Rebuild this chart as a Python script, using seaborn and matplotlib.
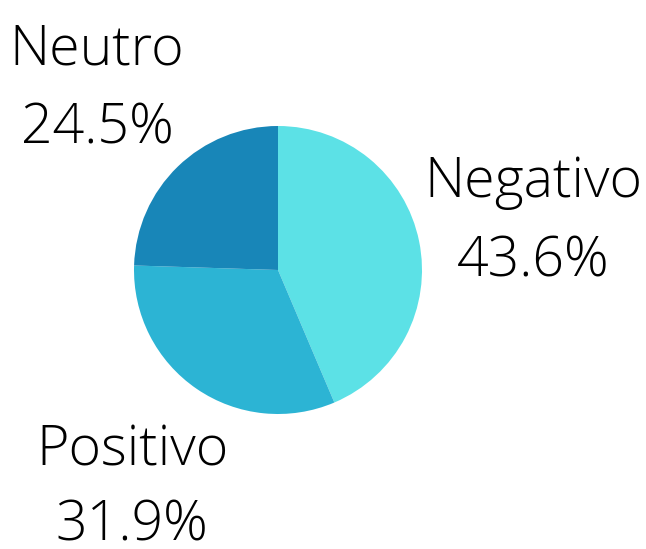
import matplotlib
matplotlib.use('Agg')
import matplotlib.pyplot as plt
import seaborn as sns

# Sentiment shares
labels = ['Negativo', 'Positivo', 'Neutro']
shares = [43.6, 31.9, 24.5]
colors = ['#5ce1e6', '#2cb4d4', '#1886b8']

sns.set_theme(style='white')
plt.rcParams['font.family'] = ['Open Sans', 'DejaVu Sans']

W, H = 646, 549
fig = plt.figure(figsize=(W / 100, H / 100), dpi=100)
fig.patch.set_facecolor('white')

# pie centred at (278, 270) px with radius 144 px
cx, cy, r = 278, 270, 144
ax = fig.add_axes([(cx - r) / W, 1 - (cy + r) / H, 2 * r / W, 2 * r / H])
ax.pie(shares, colors=colors, startangle=90, counterclock=False,
       wedgeprops=dict(linewidth=0))
ax.set_xlim(-1, 1)
ax.set_ylim(-1, 1)
ax.set_aspect('equal')
ax.axis('off')

# label positions in pixels (name centre, value centre)
label_pos = {'Negativo': (533, 183, 262),
             'Positivo': (132, 451, 526),
             'Neutro': (97, 50, 129)}
for lab, val in zip(labels, shares):
    x, y1, y2 = label_pos[lab]
    fig.text(x / W, 1 - y1 / H, lab, ha='center', va='center',
             fontsize=40, fontweight='light', color='black')
    fig.text(x / W, 1 - y2 / H, f'{val}%', ha='center', va='center',
             fontsize=40, fontweight='light', color='black')

fig.savefig('out.png', dpi=100)
